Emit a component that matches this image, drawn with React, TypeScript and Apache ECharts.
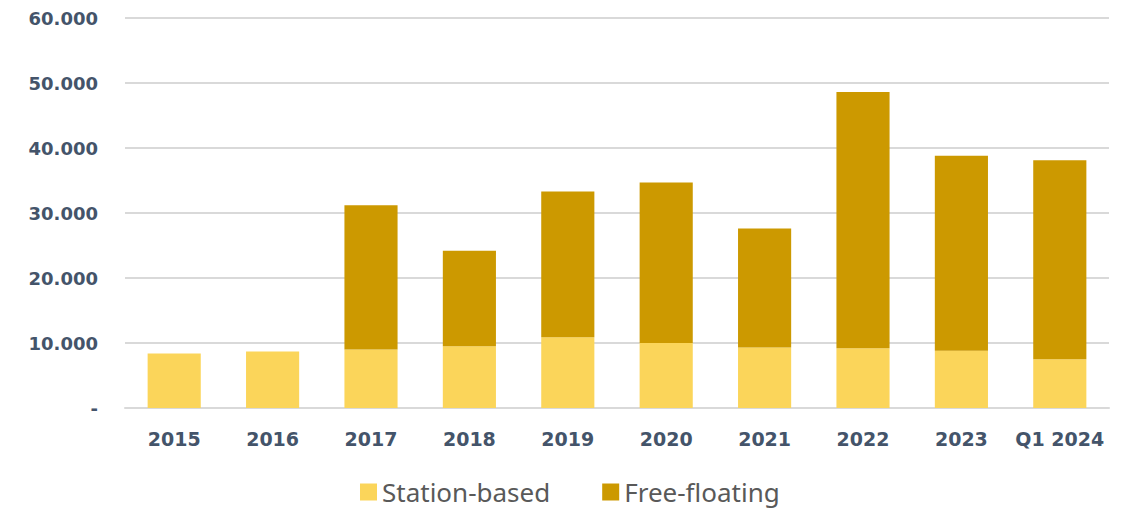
import React, { useEffect, useRef } from "react";
import * as echarts from "echarts";

const categories = ["2015", "2016", "2017", "2018", "2019", "2020", "2021", "2022", "2023", "Q1 2024"];
const stationBased = [8400, 8700, 9000, 9500, 10900, 10000, 9300, 9200, 8800, 7500];
const freeFloating = [0, 0, 22200, 14700, 22400, 24700, 18300, 39400, 30000, 30600];
const yTicks = [0, 10000, 20000, 30000, 40000, 50000, 60000];

function fmt(v: number): string {
  if (v === 0) return "-";
  return String(v).replace(/\B(?=(\d{3})+(?!\d))/g, ".");
}

export default function App() {
  const ref = useRef<HTMLDivElement>(null);
  useEffect(() => {
    if (!ref.current) return;
    const chart = echarts.init(ref.current, undefined, { renderer: "svg" });
    chart.setOption({
      animation: false,
      backgroundColor: "#ffffff",
      grid: { left: 125, right: 21, top: 18, bottom: 101, containLabel: false },
      legend: {
        top: 478,
        left: 360,
        padding: 0,
        itemWidth: 17,
        itemHeight: 17,
        itemGap: 52,
        icon: "rect",
        textStyle: { fontSize: 26, lineHeight: 28, color: "#595959", fontFamily: "Noto Sans" },
        data: ["Station-based", "Free-floating"],
      },
      xAxis: {
        type: "category",
        data: categories,
        axisLine: { show: true, lineStyle: { color: "#d9d9d9", width: 2 } },
        axisTick: { show: false },
        axisLabel: {
          interval: 0,
          margin: 21,
          fontSize: 19,
          fontWeight: "bold",
          color: "#44546A",
          fontFamily: "DejaVu Sans",
        },
      },
      yAxis: {
        type: "value",
        min: 0,
        max: yTicks[yTicks.length - 1],
        interval: 10000,
        axisLine: { show: false },
        axisTick: { show: false },
        splitLine: { lineStyle: { color: "#d9d9d9", width: 2 } },
        axisLabel: {
          margin: 27,
          fontSize: 18,
          fontWeight: "bold",
          color: "#44546A",
          fontFamily: "DejaVu Sans",
          formatter: (v: number) => fmt(v),
        },
      },
      series: [
        {
          name: "Station-based",
          type: "bar",
          stack: "total",
          data: stationBased,
          barWidth: "54%",
          itemStyle: { color: "#FBD55A" },
        },
        {
          name: "Free-floating",
          type: "bar",
          stack: "total",
          data: freeFloating,
          barWidth: "54%",
          itemStyle: { color: "#CC9900" },
        },
      ],
    });
    return () => chart.dispose();
  }, []);
  return (
    <div
      ref={ref}
      style={{ position: "fixed", left: 0, top: 0, width: 1130, height: 509, background: "#fff" }}
    />
  );
}
